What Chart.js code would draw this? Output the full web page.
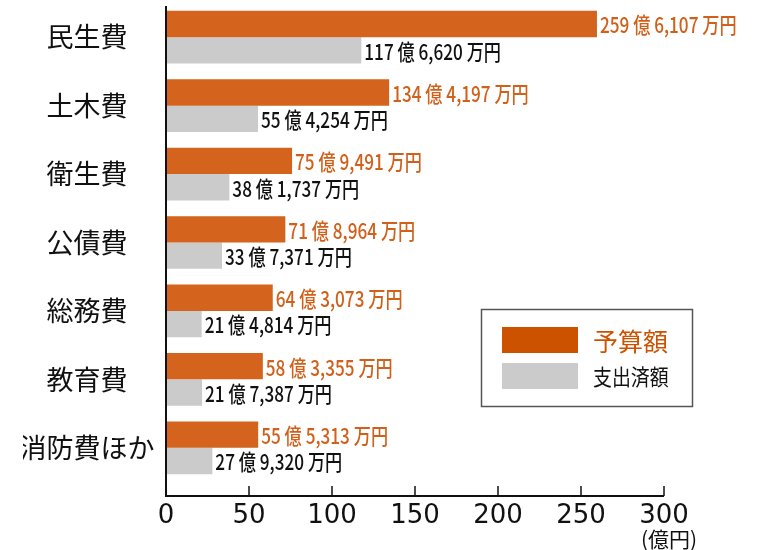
<!DOCTYPE html>
<html>
<head>
<meta charset="utf-8">
<script src="https://cdn.jsdelivr.net/npm/chart.js@4.4.0/dist/chart.umd.min.js"></script>
<style>
html,body{margin:0;padding:0;background:#fff;}
#wrap{width:766px;height:550px;position:relative;}
</style>
</head>
<body>
<div id="wrap"><canvas id="c" width="766" height="550"></canvas></div>
<script>
// Data (億円)
const categories = ['民生費', '土木費', '衛生費', '公債費', '総務費', '教育費', '消防費ほか'];
const budget = [259.6107, 134.4197, 75.9491, 71.8964, 64.3073, 58.3355, 55.5313];
const spent  = [117.6620, 55.4254, 38.1737, 33.7371, 21.4814, 21.7387, 27.9320];
const seriesNames = ['予算額', '支出済額'];
const xTicks = [0, 50, 100, 150, 200, 250, 300];
const unitLabel = '(億円)';

const ORANGE = '#D3631D';
const ORANGE_TXT = '#D0601A';
const ORANGE_LEG = '#CC5200';
const GRAY = '#CACBCA';
const CJK = '"Noto Sans CJK JP", "Noto Sans", sans-serif';

function fmt(v) {
  const man = Math.round(v * 10000);
  const oku = Math.floor(man / 10000);
  const rest = man % 10000;
  return oku + ' 億 ' + rest.toLocaleString('en-US') + ' 万円';
}

const labelPlugin = {
  id: 'valueLabels',
  afterDatasetsDraw(chart) {
    const ctx = chart.ctx;
    const colors = [ORANGE_TXT, '#111111'];
    chart.data.datasets.forEach((ds, di) => {
      const meta = chart.getDatasetMeta(di);
      meta.data.forEach((bar, i) => {
        ctx.save();
        ctx.font = '500 22px ' + CJK;
        ctx.fillStyle = colors[di];
        ctx.textBaseline = 'middle';
        ctx.textAlign = 'left';
        ctx.translate(bar.x + 3, bar.y + 1);
        ctx.scale(0.78, 1);
        ctx.fillText(fmt(ds.data[i]), 0, 0);
        ctx.restore();
      });
    });
  }
};

const axisPlugin = {
  id: 'axisLines',
  afterDatasetsDraw(chart) {
    const ctx = chart.ctx;
    const xs = chart.scales.x;
    const area = chart.chartArea;
    const axisY = area.bottom + 14;
    const x0 = xs.getPixelForValue(0);
    const x1 = xs.getPixelForValue(300);
    ctx.save();
    ctx.strokeStyle = '#111';
    ctx.lineWidth = 2;
    ctx.beginPath();
    ctx.moveTo(x0, area.top + 3);
    ctx.lineTo(x0, axisY);
    ctx.lineTo(x1, axisY);
    ctx.stroke();
    ctx.lineWidth = 1.5;
    xs.ticks.forEach(t => {
      const px = xs.getPixelForValue(t.value);
      ctx.beginPath();
      ctx.moveTo(px, axisY - 10);
      ctx.lineTo(px, axisY);
      ctx.stroke();
    });
    ctx.fillStyle = '#111';
    ctx.font = '21px ' + CJK;
    ctx.textAlign = 'center';
    ctx.textBaseline = 'middle';
    ctx.fillText(unitLabel, x1 + 5, axisY + 43);
    ctx.restore();
  }
};

const legendPlugin = {
  id: 'boxLegend',
  afterDraw(chart) {
    const ctx = chart.ctx;
    const ds = chart.data.datasets;
    ctx.save();
    ctx.fillStyle = '#fff';
    ctx.fillRect(481, 309, 212, 98);
    ctx.strokeStyle = '#555';
    ctx.lineWidth = 1.5;
    ctx.strokeRect(481.5, 309.5, 211, 97);
    ctx.fillStyle = ORANGE_LEG;
    ctx.fillRect(502, 327, 76, 26);
    ctx.fillStyle = ds[1].backgroundColor;
    ctx.fillRect(502, 363, 76, 26);
    ctx.textBaseline = 'middle';
    ctx.textAlign = 'left';
    ctx.fillStyle = ORANGE_LEG;
    ctx.font = '25px ' + CJK;
    ctx.fillText(ds[0].label, 593, 341);
    ctx.fillStyle = '#111';
    ctx.save();
    ctx.translate(593, 377);
    ctx.scale(0.86, 1);
    ctx.font = '22px ' + CJK;
    ctx.fillText(ds[1].label, 0, 0);
    ctx.restore();
    ctx.restore();
  }
};

new Chart(document.getElementById('c'), {
  type: 'bar',
  data: {
    labels: categories,
    datasets: [
      { label: seriesNames[0], data: budget, backgroundColor: ORANGE, borderWidth: 0 },
      { label: seriesNames[1], data: spent, backgroundColor: GRAY, borderWidth: 0 }
    ]
  },
  options: {
    indexAxis: 'y',
    responsive: false,
    animation: false,
    devicePixelRatio: 1,
    layout: { autoPadding: false, padding: { top: 3, left: 23, right: 102, bottom: 20 } },
    datasets: { bar: { categoryPercentage: 0.77, barPercentage: 1.0 } },
    plugins: { legend: { display: false }, tooltip: { enabled: false } },
    scales: {
      x: {
        min: 0, max: 300,
        afterBuildTicks(scale) { scale.ticks = xTicks.map(v => ({ value: v })); },
        afterFit(scale) { scale.height = 48; scale.paddingLeft = 0; scale.paddingRight = 0; },
        grid: { display: false, drawTicks: false },
        border: { display: false },
        ticks: {
          padding: 19,
          color: '#111',
          font: { family: '"DejaVu Sans"', size: 26 }
        }
      },
      y: {
        afterFit(scale) { scale.width = 143; scale.paddingTop = 0; scale.paddingBottom = 0; },
        grid: { display: false, drawTicks: false },
        border: { display: false },
        ticks: {
          crossAlign: 'center',
          padding: 11.5,
          color: '#111',
          font: { family: '"Noto Sans CJK JP"', size: 27 }
        }
      }
    }
  },
  plugins: [labelPlugin, axisPlugin, legendPlugin]
});
</script>
</body>
</html>
